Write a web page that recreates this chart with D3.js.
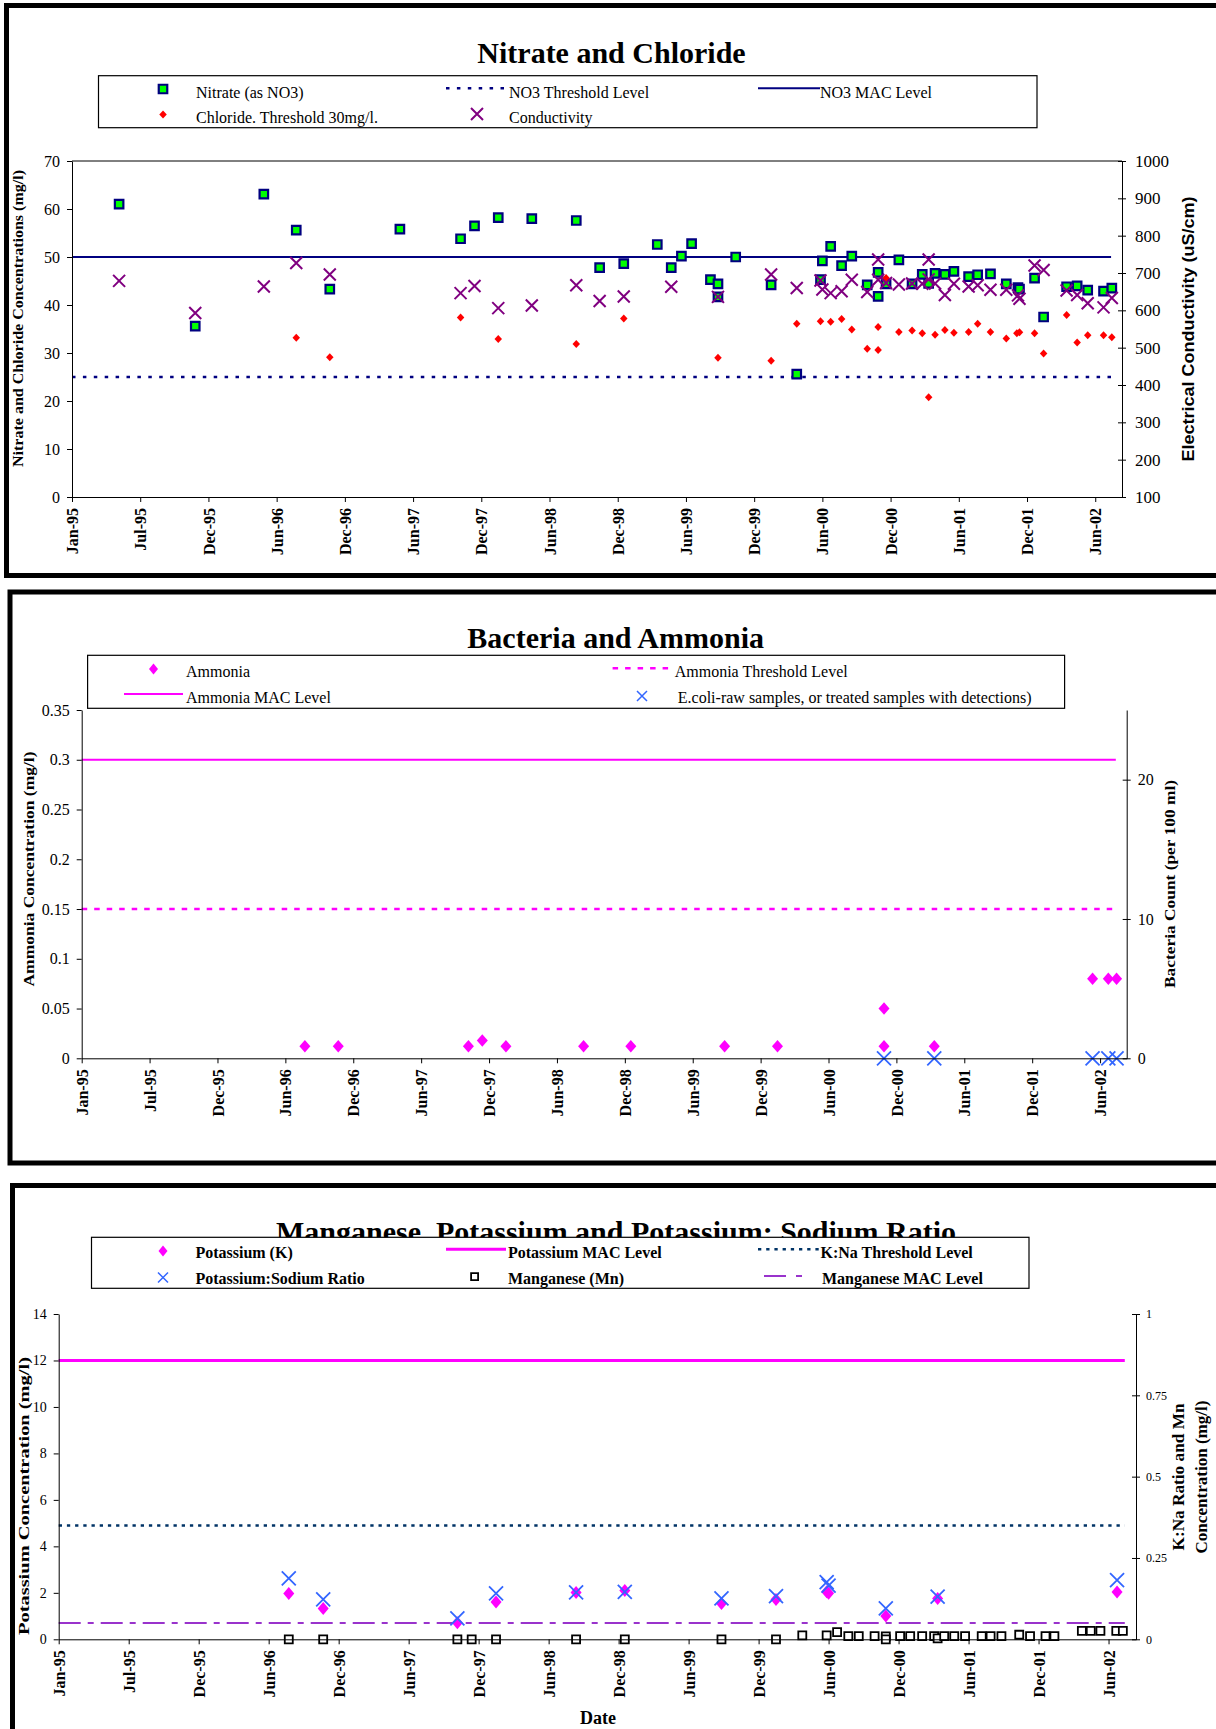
<!DOCTYPE html>
<html>
<head>
<meta charset="utf-8">
<script src="https://cdn.jsdelivr.net/npm/d3@7"></script>
<style>
  body { margin: 0; background: #fff; }
  text { font-family: "Liberation Serif", "Times New Roman", serif; fill: #000; }
</style>
</head>
<body>
<script>
// ---- values ----
var xDomain = ["1995-01-01", "2002-08-18"];
// excel date axis: one major unit = 181 days
var xTickDates = ["1995-01-01", "1995-07-01", "1995-12-29", "1996-06-27", "1996-12-25", "1997-06-24",
  "1997-12-22", "1998-06-21", "1998-12-19", "1999-06-18", "1999-12-16", "2000-06-14",
  "2000-12-12", "2001-06-11", "2001-12-09", "2002-06-08"];
var levelSpan = ["1995-01-01", "2002-07-20"];

// Nitrate and Chloride
var nitrate = [["1995-05-06", 61.0], ["1995-11-24", 35.6], ["1996-05-24", 63.1], ["1996-08-18", 55.6],
  ["1996-11-15", 43.3], ["1997-05-20", 55.8], ["1997-10-28", 53.8], ["1997-12-04", 56.5],
  ["1998-02-05", 58.2], ["1998-05-05", 58.0], ["1998-08-31", 57.6], ["1998-11-01", 47.8],
  ["1999-01-04", 48.6], ["1999-04-03", 52.6], ["1999-05-10", 47.8], ["1999-06-06", 50.2],
  ["1999-07-03", 52.8], ["1999-08-22", 45.3], ["1999-09-11", 44.4], ["1999-09-11", 41.7],
  ["1999-10-28", 50.0], ["2000-01-30", 44.2], ["2000-04-07", 25.6], ["2000-06-09", 45.3],
  ["2000-06-14", 49.2], ["2000-07-06", 52.2], ["2000-08-04", 48.2], ["2000-08-31", 50.2],
  ["2000-10-11", 44.2], ["2000-11-09", 46.8], ["2000-11-09", 41.8], ["2000-11-30", 44.4],
  ["2001-01-03", 49.4], ["2001-02-07", 44.4], ["2001-03-06", 46.4], ["2001-03-23", 44.5],
  ["2001-04-09", 46.6], ["2001-05-05", 46.4], ["2001-05-29", 47.0], ["2001-07-07", 45.9],
  ["2001-07-31", 46.3], ["2001-09-03", 46.5], ["2001-10-15", 44.4], ["2001-11-15", 43.6],
  ["2001-11-19", 43.3], ["2001-12-29", 45.6], ["2002-01-22", 37.5], ["2002-03-24", 43.8],
  ["2002-04-21", 44.0], ["2002-05-19", 43.1], ["2002-06-30", 42.9], ["2002-07-22", 43.5]];
var chloride = [["1996-08-18", 33.2], ["1996-11-15", 29.1], ["1997-10-28", 37.4], ["1998-02-05", 32.9],
  ["1998-08-31", 31.9], ["1999-01-04", 37.2], ["1999-09-11", 29.0], ["2000-01-30", 28.4],
  ["2000-04-07", 36.1], ["2000-06-09", 36.6], ["2000-07-06", 36.5], ["2000-08-04", 37.1],
  ["2000-08-31", 34.9], ["2000-10-11", 30.9], ["2000-11-09", 35.4], ["2000-11-09", 30.6],
  ["2000-11-30", 45.6], ["2001-01-03", 34.4], ["2001-02-07", 34.7], ["2001-03-06", 34.1],
  ["2001-03-23", 20.8], ["2001-04-09", 33.8], ["2001-05-05", 34.8], ["2001-05-29", 34.2],
  ["2001-07-07", 34.4], ["2001-07-31", 36.1], ["2001-09-03", 34.4], ["2001-10-15", 33.0],
  ["2001-11-12", 34.1], ["2001-11-19", 34.3], ["2001-12-29", 34.1], ["2002-01-22", 29.9],
  ["2002-03-24", 37.9], ["2002-04-21", 32.2], ["2002-05-19", 33.7], ["2002-06-30", 33.7],
  ["2002-07-22", 33.3]];
var conductivity = [["1995-05-06", 679], ["1995-11-24", 593], ["1996-05-24", 664], ["1996-08-18", 727],
  ["1996-11-15", 696], ["1997-10-28", 646], ["1997-12-04", 665], ["1998-02-05", 606],
  ["1998-05-05", 613], ["1998-08-31", 667], ["1998-11-01", 625], ["1999-01-04", 637],
  ["1999-05-10", 663], ["1999-09-11", 636], ["2000-01-30", 696], ["2000-04-07", 660],
  ["2000-06-09", 680], ["2000-06-14", 656], ["2000-07-06", 646], ["2000-08-04", 651],
  ["2000-08-31", 682], ["2000-10-11", 649], ["2000-11-09", 736], ["2000-11-09", 682],
  ["2000-11-30", 673], ["2001-01-03", 669], ["2001-02-07", 672], ["2001-03-06", 671],
  ["2001-03-23", 736], ["2001-03-23", 683], ["2001-04-09", 672], ["2001-05-05", 641],
  ["2001-05-29", 671], ["2001-07-07", 664], ["2001-07-31", 667], ["2001-09-03", 655],
  ["2001-10-15", 655], ["2001-11-15", 640], ["2001-11-19", 631], ["2001-12-29", 720],
  ["2002-01-22", 708], ["2002-03-24", 653], ["2002-04-21", 641], ["2002-05-19", 619],
  ["2002-06-30", 608], ["2002-07-22", 633]];
var no3Threshold = 25, no3Mac = 50;

// Bacteria and Ammonia
var ammonia = [["1996-08-18", 0.012], ["1996-11-15", 0.012], ["1997-10-28", 0.012], ["1997-12-04", 0.018],
  ["1998-02-05", 0.012], ["1998-08-31", 0.012], ["1999-01-04", 0.012], ["1999-09-11", 0.012],
  ["2000-01-30", 0.012], ["2000-11-09", 0.05], ["2000-11-09", 0.012], ["2001-03-23", 0.012],
  ["2002-05-19", 0.08], ["2002-06-30", 0.08], ["2002-07-22", 0.08]];
var ecoli = [["2000-11-09", 0], ["2001-03-23", 0], ["2002-05-19", 0], ["2002-06-30", 0], ["2002-07-22", 0]];
var ammoniaThreshold = 0.15, ammoniaMac = 0.3;

// Manganese, Potassium and K:Na ratio
var potassium = [["1996-08-18", 1.97], ["1996-11-15", 1.33], ["1997-10-28", 0.71], ["1998-02-05", 1.61],
  ["1998-08-31", 2.01], ["1999-01-04", 2.10], ["1999-09-11", 1.54], ["2000-01-30", 1.71],
  ["2000-06-09", 2.05], ["2000-06-14", 1.98], ["2000-11-09", 1.00], ["2001-03-23", 1.76],
  ["2002-06-30", 2.04]];
var kNaRatio = [["1996-08-18", 0.187], ["1996-11-15", 0.123], ["1997-10-28", 0.064], ["1998-02-05", 0.141],
  ["1998-08-31", 0.144], ["1999-01-04", 0.146], ["1999-09-11", 0.126], ["2000-01-30", 0.133],
  ["2000-06-09", 0.176], ["2000-06-14", 0.165], ["2000-11-09", 0.095], ["2001-03-23", 0.131],
  ["2002-06-30", 0.182]];
var manganese = [["1996-08-18", 0], ["1996-11-15", 0], ["1997-10-28", 0], ["1997-12-04", 0],
  ["1998-02-05", 0], ["1998-08-31", 0], ["1999-01-04", 0], ["1999-09-11", 0], ["2000-01-30", 0],
  ["2000-04-07", 0.012], ["2000-06-09", 0.012], ["2000-07-06", 0.022], ["2000-08-04", 0.010],
  ["2000-08-31", 0.010], ["2000-10-11", 0.010], ["2000-11-09", 0.009], ["2000-11-09", 0],
  ["2000-12-16", 0.010], ["2001-01-11", 0.010], ["2001-02-11", 0.010], ["2001-03-14", 0.010],
  ["2001-03-23", 0.003], ["2001-04-09", 0.010], ["2001-05-05", 0.010], ["2001-06-02", 0.010],
  ["2001-07-15", 0.010], ["2001-08-07", 0.010], ["2001-09-04", 0.010], ["2001-10-20", 0.014],
  ["2001-11-17", 0.010], ["2001-12-27", 0.010], ["2002-01-19", 0.010], ["2002-03-31", 0.026],
  ["2002-04-23", 0.026], ["2002-05-18", 0.026], ["2002-06-28", 0.026], ["2002-07-15", 0.026]];
var potassiumMac = 12, kNaThreshold = 0.35, manganeseMac = 0.05;

// axis ticks
var ticksNitrate = [0, 10, 20, 30, 40, 50, 60, 70];
var ticksCond = [100, 200, 300, 400, 500, 600, 700, 800, 900, 1000];
var ticksAmmonia = [0, 0.05, 0.1, 0.15, 0.2, 0.25, 0.3, 0.35];
var ticksBacteria = [0, 10, 20];
var ticksPotassium = [0, 2, 4, 6, 8, 10, 12, 14];
var ticksRatio = [0, 0.25, 0.5, 0.75, 1];

// ---- drawing ----
var parseDate = d3.utcParse("%Y-%m-%d");
var fmtNum = d3.format("~g");

var svg = d3.select("body").append("svg")
    .attr("width", 1216)
    .attr("height", 1729);

// marker shapes
function diamond(w, h) {
  return "M0," + (-h / 2) + "L" + (w / 2) + ",0L0," + (h / 2) + "L" + (-w / 2) + ",0Z";
}
function cross(s) {
  var r = s / 2;
  return "M" + (-r) + "," + (-r) + "L" + r + "," + r + "M" + (-r) + "," + r + "L" + r + "," + (-r);
}
function square(s) {
  var r = s / 2;
  return "M" + (-r) + "," + (-r) + "h" + s + "v" + s + "h" + (-s) + "Z";
}

var st = {
  nitrate: {d: square(8.5), fill: "#00ff00", stroke: "#000080", sw: 2.2},
  chloride: {d: diamond(7.5, 8), fill: "#ff0000", stroke: "none", sw: 0},
  cond: {d: cross(12), fill: "none", stroke: "#800080", sw: 2},
  ammonia: {d: diamond(11, 12.5), fill: "#ff00ff", stroke: "none", sw: 0},
  ecoli: {d: cross(14), fill: "none", stroke: "#3366ff", sw: 1.8},
  potassium: {d: diamond(11, 13), fill: "#ff00ff", stroke: "none", sw: 0},
  ratio: {d: cross(14), fill: "none", stroke: "#3366ff", sw: 1.8},
  mn: {d: square(8), fill: "#fff", stroke: "#000", sw: 1.8}
};
var ln = {
  no3Thr: {stroke: "#000080", sw: 2.6, dash: "3.5,7.4"},
  no3Mac: {stroke: "#000080", sw: 2, dash: null},
  nh4Thr: {stroke: "#ff00ff", sw: 2.4, dash: "5.5,7"},
  nh4Mac: {stroke: "#ff00ff", sw: 2, dash: null},
  kMac: {stroke: "#ff00ff", sw: 3, dash: null},
  kNaThr: {stroke: "#003366", sw: 2.6, dash: "3.3,4.9"},
  mnMac: {stroke: "#9933cc", sw: 2, dash: "22,7,6,7"}
};

function marks(data, x, y, s) {
  svg.append("g").selectAll("path")
    .data(data)
    .enter()
    .append("path")
      .attr("transform", function (d) { return "translate(" + x(parseDate(d[0])) + "," + y(d[1]) + ")"; })
      .attr("d", s.d)
      .attr("fill", s.fill)
      .attr("stroke", s.stroke)
      .attr("stroke-width", s.sw);
}

function level(x, y, v, s) {
  svg.append("line")
    .attr("x1", x(parseDate(levelSpan[0])))
    .attr("x2", x(parseDate(levelSpan[1])))
    .attr("y1", y(v)).attr("y2", y(v))
    .attr("stroke", s.stroke)
    .attr("stroke-width", s.sw)
    .attr("stroke-dasharray", s.dash);
}

function styleAxis(ax, fs) {
  ax.attr("font-size", fs);
  ax.selectAll("path, line").attr("stroke", "#000");
}

function xAxis(x, bottom) {
  var ax = svg.append("g")
    .attr("transform", "translate(0," + bottom + ")")
    .call(d3.axisBottom(x)
      .tickValues(xTickDates.map(parseDate))
      .tickFormat(d3.utcFormat("%b-%y"))
      .tickSize(5)
      .tickSizeOuter(0));
  ax.selectAll("text")
    .attr("transform", "rotate(-90)")
    .attr("x", -11)
    .attr("y", 0)
    .attr("dy", "0.35em")
    .attr("text-anchor", "end")
    .attr("font-weight", "bold");
  styleAxis(ax, 16);
}

function leftAxis(y, left, ticks, fs) {
  var ax = svg.append("g")
    .attr("transform", "translate(" + left + ",0)")
    .call(d3.axisLeft(y).tickValues(ticks).tickFormat(fmtNum)
      .tickSize(5).tickPadding(7).tickSizeOuter(0));
  styleAxis(ax, fs);
}

function rightAxis(y, right, ticks, fs, pad) {
  var ax = svg.append("g")
    .attr("transform", "translate(" + right + ",0)")
    .call(d3.axisRight(y).tickValues(ticks).tickFormat(fmtNum)
      .tickSize(4).tickPadding(pad).tickSizeOuter(0));
  ax.selectAll(".tick line").attr("x1", -4);
  styleAxis(ax, fs);
}

function title(txt, cx, y) {
  svg.append("text")
    .attr("x", cx).attr("y", y)
    .attr("text-anchor", "middle")
    .attr("font-size", 30)
    .attr("font-weight", "bold")
    .text(txt);
}

function vLabel(txt, cx, cy, len, fs, sans) {
  var t = svg.append("text")
    .attr("transform", "translate(" + cx + "," + cy + ") rotate(-90)")
    .attr("text-anchor", "middle")
    .attr("dy", "0.35em")
    .attr("font-size", fs)
    .attr("font-weight", "bold")
    .attr("textLength", len)
    .attr("lengthAdjust", "spacingAndGlyphs")
    .text(txt);
  if (sans) t.style("font-family", '"Liberation Sans", Arial, sans-serif');
}

function legendBox(x, y, w, h) {
  svg.append("rect")
    .attr("x", x).attr("y", y).attr("width", w).attr("height", h)
    .attr("fill", "#fff").attr("stroke", "#000").attr("stroke-width", 1.2);
}
function legendText(txt, x, y, bold) {
  svg.append("text").attr("x", x).attr("y", y)
    .attr("font-size", 16)
    .attr("font-weight", bold ? "bold" : "normal")
    .text(txt);
}
function legendMark(x, y, s) {
  svg.append("path").attr("transform", "translate(" + x + "," + y + ")")
    .attr("d", s.d).attr("fill", s.fill).attr("stroke", s.stroke).attr("stroke-width", s.sw);
}
function legendLine(x1, x2, y, s) {
  svg.append("line").attr("x1", x1).attr("x2", x2).attr("y1", y).attr("y2", y)
    .attr("stroke", s.stroke).attr("stroke-width", s.sw).attr("stroke-dasharray", s.dash);
}

// frames round each chart
[[6.5, 5.5, 1300, 570], [10, 592, 1300, 571], [12.5, 1185.5, 1300, 600]].forEach(function (f) {
  svg.append("rect")
    .attr("x", f[0]).attr("y", f[1]).attr("width", f[2]).attr("height", f[3])
    .attr("fill", "none").attr("stroke", "#000").attr("stroke-width", 5);
});

// ===== chart 1: Nitrate and Chloride =====
var x1 = d3.scaleUtc().domain(xDomain.map(parseDate)).range([72, 1122]);
var y1 = d3.scaleLinear().domain([0, 70]).range([497, 161]);
var y1r = d3.scaleLinear().domain([100, 1000]).range([497, 161]);

title("Nitrate and Chloride", 611.5, 62.5);
legendBox(98.5, 75.7, 938.5, 52);
legendMark(163, 89, st.nitrate);
legendText("Nitrate (as NO3)", 196, 97.5);
legendLine(446, 508, 88.3, ln.no3Thr);
legendText("NO3 Threshold Level", 509, 97.5);
legendLine(758, 820, 88.3, ln.no3Mac);
legendText("NO3 MAC Level", 820, 97.5);
legendMark(163, 114.5, st.chloride);
legendText("Chloride. Threshold 30mg/l.", 196, 123);
legendMark(477, 114, st.cond);
legendText("Conductivity", 509, 123);

svg.append("line").attr("x1", 72).attr("x2", 1122).attr("y1", 161).attr("y2", 161)
  .attr("stroke", "#000").attr("stroke-width", 1);
level(x1, y1, no3Threshold, ln.no3Thr);
level(x1, y1, no3Mac, ln.no3Mac);
marks(nitrate, x1, y1, st.nitrate);
marks(chloride, x1, y1, st.chloride);
marks(conductivity, x1, y1r, st.cond);
leftAxis(y1, 72, ticksNitrate, 16);
rightAxis(y1r, 1122, ticksCond, 17, 9);
xAxis(x1, 497);
vLabel("Nitrate and Chloride Concentrations (mg/l)", 18, 318.5, 297, 15);
vLabel("Electrical Conductivity (uS/cm)", 1188, 329, 265, 16, true);

// ===== chart 2: Bacteria and Ammonia =====
var x2 = d3.scaleUtc().domain(xDomain.map(parseDate)).range([81.7, 1126.7]);
var y2 = d3.scaleLinear().domain([0, 0.35]).range([1058.3, 710]);
var y2r = d3.scaleLinear().domain([0, 25]).range([1058.3, 710]);

title("Bacteria and Ammonia", 615.7, 648);
legendBox(87.6, 655.3, 977, 53);
legendMark(153.5, 669, {d: diamond(9, 11), fill: "#ff00ff", stroke: "none", sw: 0});
legendText("Ammonia", 186, 677);
legendLine(612.6, 673, 668.3, ln.nh4Thr);
legendText("Ammonia Threshold Level", 674.7, 677);
legendLine(124, 183, 694, ln.nh4Mac);
legendText("Ammonia MAC Level", 186, 703);
legendMark(642, 696, {d: cross(10), fill: "none", stroke: "#3366ff", sw: 1.5});
legendText("E.coli-raw samples, or treated samples with detections)", 677.8, 703);

level(x2, y2, ammoniaMac, ln.nh4Mac);
level(x2, y2, ammoniaThreshold, ln.nh4Thr);
marks(ammonia, x2, y2, st.ammonia);
marks(ecoli, x2, y2r, st.ecoli);
leftAxis(y2, 81.7, ticksAmmonia, 16);
rightAxis(y2r, 1126.7, ticksBacteria, 16, 7);
xAxis(x2, 1058.3);
vLabel("Ammonia Concentration (mg/l)", 28.5, 869, 235, 15);
vLabel("Bacteria Count (per 100 ml)", 1170, 884, 208, 15);

// ===== chart 3: Manganese, Potassium and K:Na ratio =====
var x3 = d3.scaleUtc().domain(xDomain.map(parseDate)).range([58.7, 1136]);
var y3 = d3.scaleLinear().domain([0, 14]).range([1639.3, 1314]);
var y3r = d3.scaleLinear().domain([0, 1]).range([1639.3, 1314]);

// the title sits partly under the legend box, as in the original
title("Manganese, Potassium and Potassium: Sodium Ratio", 616, 1242);
legendBox(91.5, 1237.3, 937.5, 51);
legendMark(163, 1251, {d: diamond(9, 11), fill: "#ff00ff", stroke: "none", sw: 0});
legendText("Potassium (K)", 195.4, 1257.5, true);
legendLine(446, 506, 1249.3, ln.kMac);
legendText("Potassium MAC Level", 508, 1257.5, true);
legendLine(758, 820, 1249.3, ln.kNaThr);
legendText("K:Na Threshold Level", 820.5, 1257.5, true);
legendMark(163, 1277.5, {d: cross(10), fill: "none", stroke: "#3366ff", sw: 1.5});
legendText("Potassium:Sodium Ratio", 195.4, 1284, true);
legendMark(474.6, 1276.7, {d: square(7), fill: "#fff", stroke: "#000", sw: 1.8});
legendText("Manganese (Mn)", 508, 1284, true);
legendLine(764, 806, 1276, {stroke: "#9933cc", sw: 2, dash: "22,10,6,10"});
legendText("Manganese MAC Level", 822, 1284, true);

level(x3, y3, potassiumMac, ln.kMac);
level(x3, y3r, kNaThreshold, ln.kNaThr);
level(x3, y3r, manganeseMac, ln.mnMac);
marks(manganese, x3, y3r, st.mn);
marks(potassium, x3, y3, st.potassium);
marks(kNaRatio, x3, y3r, st.ratio);
leftAxis(y3, 58.7, ticksPotassium, 14);
rightAxis(y3r, 1136, ticksRatio, 12, 6);
xAxis(x3, 1639.3);
vLabel("Potassium Concentration (mg/l)", 24, 1496, 278, 15);
vLabel("K:Na Ratio and Mn", 1178.3, 1477, 147, 16);
vLabel("Concentration (mg/l)", 1201.7, 1477, 153, 16);

svg.append("text")
  .attr("x", 598).attr("y", 1724)
  .attr("text-anchor", "middle")
  .attr("font-size", 18)
  .attr("font-weight", "bold")
  .text("Date");
</script>
</body>
</html>
